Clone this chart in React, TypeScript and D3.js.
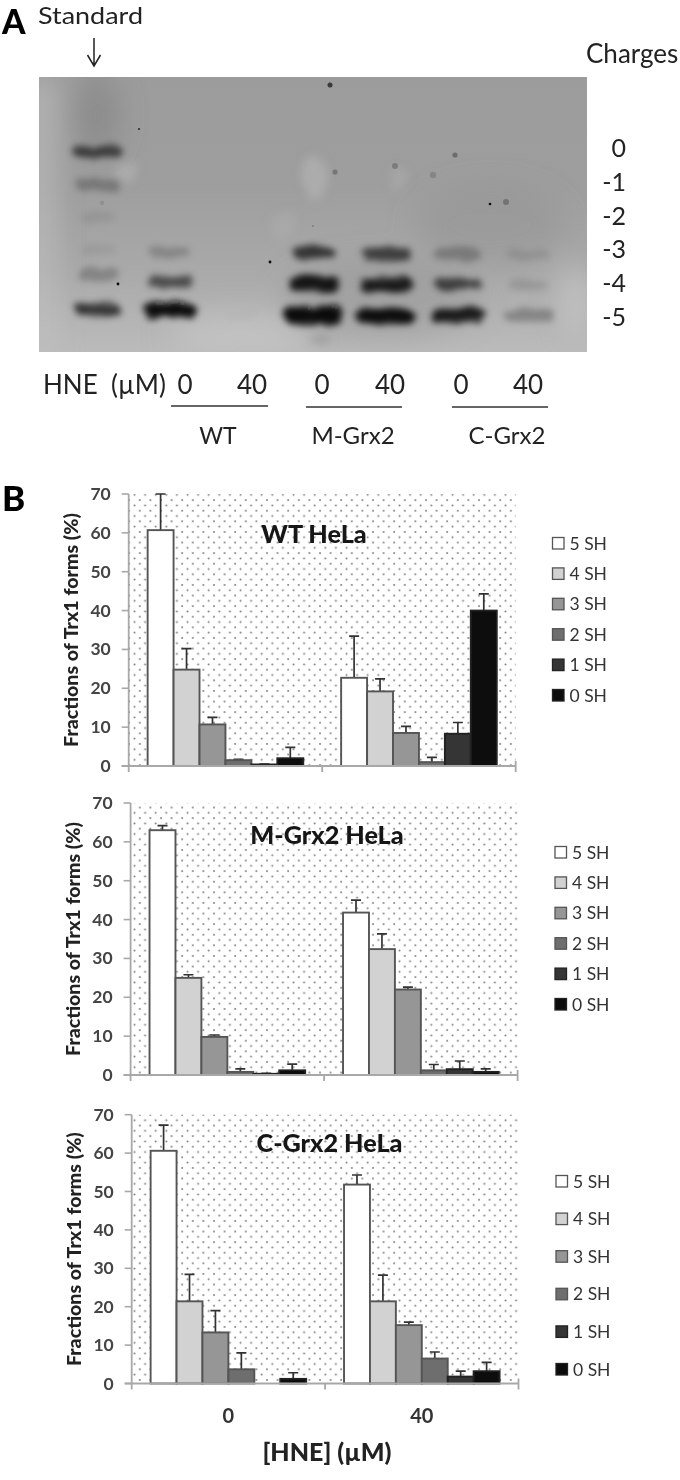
import React from "react";
import * as d3 from "d3";

// ---------- Panel B data ----------
const doses = ["0", "40"];
const forms = ["5 SH", "4 SH", "3 SH", "2 SH", "1 SH", "0 SH"];
const yTicks = [0, 10, 20, 30, 40, 50, 60, 70];

const wtValues = [[60.7, 24.8, 10.7, 1.5, 0.4, 2.0], [22.7, 19.2, 8.5, 1.0, 8.3, 40.0]];
const wtTops = [[70, 30.2, 12.5, 1.7, 0.5, 4.8], [33.4, 22.4, 10.2, 2.2, 11.2, 44.3]];
const mValues = [[63, 25, 9.8, 0.8, 0.3, 1.2], [41.8, 32.4, 22, 1.2, 1.5, 0.8]];
const mTops = [[64.2, 25.8, 10.3, 1.6, 0.4, 2.8], [45, 36.3, 22.6, 2.7, 3.6, 1.6]];
const cValues = [[60.6, 21.4, 13.3, 3.7, 0, 1.2], [51.8, 21.4, 15.2, 6.5, 1.8, 3.2]];
const cTops = [[67.3, 28.4, 19, 8, 0, 2.8], [54.3, 28.2, 16, 8.2, 3.2, 5.5]];

// ---------- Panel A data ----------
const lanes = ["Std", "WT0", "WT40", "M0", "M40", "C0", "C40"];
const charges = ["0", "-1", "-2", "-3", "-4", "-5"];
const blotLane = ["Std", "Std", "Std", "Std", "Std", "Std", "WT0", "WT0", "WT0", "WT40", "M0", "M0", "M0", "M40", "M40", "M40", "C0", "C0", "C0", "C40", "C40", "C40"];
const blotMobility = [0, -1, -1.98, -2.98, -3.74, -4.79, -3.05, -3.96, -4.82, -4.95, -3.08, -4, -4.97, -3.1, -4.05, -5, -3.1, -4.02, -4.98, -3.12, -4.05, -4.98];
const blotIntensity = [0.5, 0.32, 0.1, 0.08, 0.3, 0.62, 0.26, 0.45, 1, 0.02, 0.58, 0.85, 1, 0.5, 0.8, 0.95, 0.32, 0.5, 0.8, 0.14, 0.16, 0.35];
const blotWidth = [52, 44, 34, 34, 40, 48, 42, 46, 54, 30, 44, 54, 60, 50, 54, 60, 48, 48, 54, 42, 40, 50];

const specksX = [330, 139, 118, 270, 490, 506, 455, 395, 335, 433, 313, 102];
const specksY = [85, 129, 284, 262, 204, 202, 155, 166, 172, 175, 226, 203];
const specksR = [2.5, 1.1, 1.4, 1.4, 1.3, 3, 2.6, 3, 2.6, 3.2, 0.8, 2.2];
const specksA = [0.7, 0.8, 1, 1, 1, 0.25, 0.3, 0.22, 0.25, 0.14, 0.4, 0.1];

const fills = ["#ffffff", "#d2d2d2", "#969696", "#6e6e6e", "#353535", "#0c0c0c"];
const FONT = "Lato, 'Open Sans', sans-serif";

const panels = [
  { title: "WT HeLa", values: wtValues, tops: wtTops, left: 128.7, right: 515.7, top: 494, bottom: 766, tx: 314, ty: 543, lx: 552.5, ly: 543, ls: 30.4, showX: false },
  { title: "M-Grx2 HeLa", values: mValues, tops: mTops, left: 130.6, right: 517.6, top: 803, bottom: 1075, tx: 327, ty: 844, lx: 555, ly: 852, ls: 30.4, showX: false },
  { title: "C-Grx2 HeLa", values: cValues, tops: cTops, left: 131.7, right: 518.5, top: 1114.7, bottom: 1383.5, tx: 329.5, ty: 1152, lx: 556, ly: 1181, ls: 37.6, showX: true },
];

function Panel({ p }: { p: typeof panels[number] }) {
  const y = d3.scaleLinear().domain([0, 70]).range([p.bottom, p.top]);
  const x0 = d3.scaleBand().domain(doses).range([p.left, p.right]);
  const x1 = d3.scaleBand().domain(forms).range([0, x0.bandwidth()]).paddingInner(0).paddingOuter(0.73);
  return (
    <g>
      <rect x={p.left} y={p.top} width={p.right - p.left} height={p.bottom - p.top} fill="url(#dots)" />
      <g filter="url(#soft)">
        {doses.map((d, di) =>
          forms.map((f, fi) => {
            const v = p.values[di][fi];
            const t = p.tops[di][fi];
            const bx = x0(d)! + x1(f)!;
            const bw = x1.bandwidth();
            const cx = bx + bw / 2;
            return (
              <g key={d + f}>
                {t > v && <path d={`M${cx},${y(v)}V${y(t)}M${cx - 5},${y(t)}H${cx + 5}`} stroke="#333" strokeWidth={1.7} fill="none" />}
                {v > 0 && <rect x={bx} y={y(v)} width={bw} height={y(0) - y(v)} fill={fills[fi]} stroke={fi >= 4 ? "#222" : "#555"} strokeWidth={1.9} />}
              </g>
            );
          })
        )}
        <path
          d={`M${p.left},${p.top}V${p.bottom + 6}M${p.left - 7},${p.bottom}H${p.right}M${x0("40")!},${p.bottom}v6M${p.right},${p.bottom - 5}v11`}
          stroke="#a8a8a8" strokeWidth={1.8} fill="none"
        />
        {yTicks.map((t) => (
          <line key={t} x1={p.left - 7} x2={p.left} y1={y(t)} y2={y(t)} stroke="#a8a8a8" strokeWidth={1.6} />
        ))}
      </g>
      {yTicks.map((t) => (
        <text key={t} x={p.left - 18} y={y(t) + 6} textAnchor="end" fontSize={17.5} fontWeight={700} fill="#444" fontFamily={FONT}>{t}</text>
      ))}
      <text transform={`translate(${p.left - 51},${(p.top + p.bottom) / 2 - 0}) rotate(-90)`} textAnchor="middle" fontSize={19.6} fontWeight={900} fill="#222" fontFamily={FONT}>Fractions of Trx1 forms (%)</text>
      <text x={p.tx} y={p.ty} textAnchor="middle" fontSize={25.2} fontWeight={900} fill="#161616" fontFamily={FONT}>{p.title}</text>
      {forms.map((f, i) => (
        <g key={f}>
          <rect x={p.lx} y={p.ly + i * p.ls - 5.5} width={11.5} height={11.5} fill={fills[i]} stroke={i >= 4 ? "#222" : "#555"} strokeWidth={1.3} />
          <text x={p.lx + 17} y={p.ly + i * p.ls + 6.5} fontSize={17.5} fill="#333" fontFamily={FONT}>{f}</text>
        </g>
      ))}
      {p.showX && doses.map((d) => (
        <text key={d} x={x0(d)! + x0.bandwidth() / 2} y={p.bottom + 39} textAnchor="middle" fontSize={20} fontWeight={700} fill="#333" fontFamily={FONT}>{d}</text>
      ))}
    </g>
  );
}

function Blot() {
  const L = 39, R = 587, T = 77, B = 352;
  const lx = d3.scalePoint().domain(lanes).range([98, 530]);
  const by = d3.scaleLinear().domain([0, -5]).range([152, 316]);
  const labelY = d3.scaleLinear().domain([0, 5]).range([148, 317]);
  return (
    <g>
      <defs>
        <linearGradient id="blotBg" x1="0" y1="0" x2="0" y2="1">
          <stop offset="0" stopColor="#9c9c9c" />
          <stop offset="0.4" stopColor="#9e9e9e" />
          <stop offset="0.7" stopColor="#a9a9a9" />
          <stop offset="1" stopColor="#bbbbbb" />
        </linearGradient>
        <clipPath id="blotClip"><rect x={L} y={T} width={R - L} height={B - T} /></clipPath>
        <filter id="b1" x="-10%" y="-10%" width="120%" height="120%">
          <feTurbulence type="fractalNoise" baseFrequency="0.05 0.09" numOctaves={2} seed={4} result="n" />
          <feDisplacementMap in="SourceGraphic" in2="n" scale={9} xChannelSelector="R" yChannelSelector="G" />
          <feGaussianBlur stdDeviation="3.2" />
        </filter>
        <filter id="b2" x="-50%" y="-50%" width="200%" height="200%"><feGaussianBlur stdDeviation="14" /></filter>
        <filter id="b3" x="-50%" y="-50%" width="200%" height="200%"><feGaussianBlur stdDeviation="0.6" /></filter>
        <filter id="b4" x="-50%" y="-50%" width="200%" height="200%">
          <feTurbulence type="fractalNoise" baseFrequency="0.03" numOctaves={2} seed={9} result="n" />
          <feDisplacementMap in="SourceGraphic" in2="n" scale={24} xChannelSelector="R" yChannelSelector="G" />
          <feGaussianBlur stdDeviation="4" />
        </filter>
      </defs>
      <g clipPath="url(#blotClip)">
        <rect x={L} y={T} width={R - L} height={B - T} fill="url(#blotBg)" />
        <g filter="url(#b2)">
          <rect x={L - 10} y={T} width={24} height={B - T} fill="#c4c4c4" opacity={0.7} />
          <ellipse cx={97} cy={115} rx={22} ry={42} fill="#7c7c7c" opacity={0.5} />
          <ellipse cx={490} cy={225} rx={75} ry={40} fill="#8e8e8e" opacity={0.4} />
          <ellipse cx={240} cy={335} rx={70} ry={22} fill="#c6c6c6" opacity={0.7} />
          <ellipse cx={575} cy={300} rx={14} ry={35} fill="#c8c8c8" opacity={0.8} />
          <ellipse cx={380} cy={300} rx={100} ry={40} fill="#8e8e8e" opacity={0.4} />
        </g>
        <g filter="url(#b4)">
          <ellipse cx={315} cy={180} rx={13} ry={24} fill="#b2b2b2" opacity={0.7} />
          <ellipse cx={395} cy={180} rx={12} ry={14} fill="#aeaeae" opacity={0.5} />
          <ellipse cx={285} cy={220} rx={14} ry={12} fill="#aeaeae" opacity={0.5} />
          <ellipse cx={128} cy={172} rx={7} ry={12} fill="#b6b6b6" opacity={0.6} />
          <ellipse cx={322} cy={343} rx={12} ry={5} fill="#8e8e8e" opacity={0.5} />
        </g>
        <g filter="url(#b1)">
          {blotLane.map((l, i) => {
            const a = blotIntensity[i];
            const h = 9 + a * 9;
            const w = blotWidth[i];
            return (
              <g key={i}>
                <rect x={lx(l)! - w / 2} y={by(blotMobility[i]) - h / 2} width={w} height={h} rx={h / 2} fill="#0a0a0a" opacity={a * 0.72} />
                {a > 0.4 && <rect x={lx(l)! - w * 0.44} y={by(blotMobility[i]) - h * 0.34} width={w * 0.88} height={h * 0.68} rx={h * 0.3} fill="#050505" opacity={a * 0.8} />}
              </g>
            );
          })}
        </g>
        <g filter="url(#b3)">
          {specksX.map((sx, i) => (
            <circle key={i} cx={sx} cy={specksY[i]} r={specksR[i]} fill="#111" opacity={specksA[i]} />
          ))}
        </g>
      </g>
      {charges.map((c, i) => (
        <text key={c} x={626} y={labelY(i) + 9} textAnchor="end" fontSize={25} fill="#222" fontFamily={FONT}>{c}</text>
      ))}
    </g>
  );
}

const t = { fontFamily: FONT, fill: "#222" };

export default function App() {
  return (
    <svg width={680} height={1480} style={{ position: "absolute", left: 0, top: 0, background: "#fff" }}>
      <defs>
        <pattern id="dots" width={10.6} height={10.6} patternUnits="userSpaceOnUse">
          <circle cx={2} cy={2} r={1} fill="#7c7c7c" />
          <circle cx={7.3} cy={7.3} r={1} fill="#7c7c7c" />
        </pattern>
        <filter id="soft" x="-5%" y="-5%" width="110%" height="110%"><feGaussianBlur stdDeviation="0.35" /></filter>
      </defs>
      <Blot />
      <text x={2} y={34} fontSize={33.5} fontWeight={900} fontFamily="Lato, sans-serif" fill="#000">A</text>
      <text x={2} y={511} fontSize={35} fontWeight={900} fontFamily="Lato, sans-serif" fill="#000">B</text>
      <text x={38} y={24} fontSize={24} textLength={105} lengthAdjust="spacingAndGlyphs" {...t}>Standard</text>
      <path d="M94,38V66M87.5,55L94,66L100.5,55" stroke="#222" strokeWidth={1.5} fill="none" />
      <text x={586} y={63} fontSize={26} {...t}>Charges</text>
      <text x={43} y={394} fontSize={26} {...t} style={{ whiteSpace: "pre" }}>HNE  (µM)</text>
      {[[185, "0"], [252, "40"], [322, "0"], [390, "40"], [461, "0"], [528, "40"]].map(([x, s], i) => (
        <text key={i} x={x as number} y={394} textAnchor="middle" fontSize={26} {...t}>{s}</text>
      ))}
      {[[171, 268, 406], [306, 402, 407], [452, 548, 407]].map(([a, b, y], i) => (
        <line key={i} x1={a} x2={b} y1={y} y2={y} stroke="#333" strokeWidth={1.5} />
      ))}
      <text x={218} y={444} textAnchor="middle" fontSize={23} {...t}>WT</text>
      <text x={353} y={444} textAnchor="middle" fontSize={24} {...t}>M-Grx2</text>
      <text x={507} y={444} textAnchor="middle" fontSize={24} {...t}>C-Grx2</text>
      {panels.map((p) => <Panel key={p.title} p={p} />)}
      <text x={327} y={1461} textAnchor="middle" fontSize={25} fontWeight={900} fill="#222" fontFamily={FONT}>[HNE] (µM)</text>
    </svg>
  );
}
